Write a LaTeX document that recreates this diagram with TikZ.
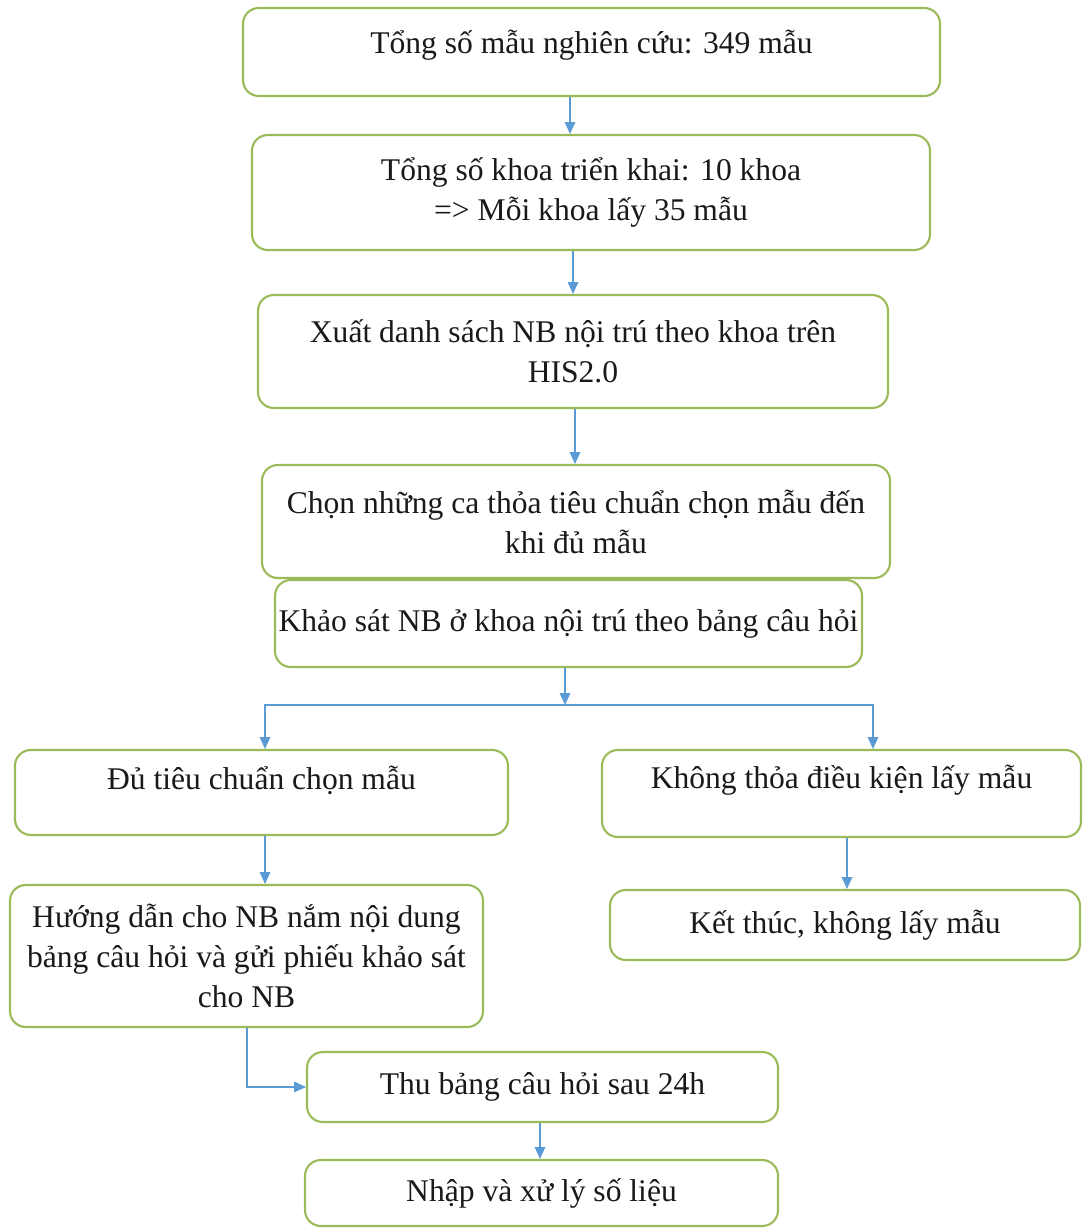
\documentclass[tikz,border=0pt]{standalone}
\usepackage{fontspec}
\setmainfont{Liberation Serif}
\usepackage{xcolor}
\usetikzlibrary{
  arrows.meta,
  calc
}
\definecolor{boxgreen}{RGB}{155,187,89}
\definecolor{arrowblue}{RGB}{91,155,213}

\begin{document}
\begin{tikzpicture}[
  x=0.38pt, y=-0.38pt,
  every node/.style={font=\fontsize{12}{15.2}\selectfont},
  box/.style={
    rectangle, rounded corners=6pt,
    draw=boxgreen, line width=0.8pt, fill=white,
    inner sep=0pt, align=center, text=black!90
  },
  boxsize/.style 2 args={minimum width=#1*0.38pt, minimum height=#2*0.38pt},
  hightext/.style={text depth=#1},
  arr/.style={-{Triangle[length=4.5pt,width=4pt]}, color=arrowblue, line width=0.5pt}
]
  \useasboundingbox (0,0) rectangle (1083,1228);

  % Main column
  \node[box, boxsize={697}{88}, hightext=8pt] (total) at (591.5,52) {Tổng số mẫu nghiên cứu: 349 mẫu};
  \node[box, boxsize={678}{115}] (depts) at (591,192.5) {Tổng số khoa triển khai: 10 khoa\\=> Mỗi khoa lấy 35 mẫu};
  \node[box, boxsize={630}{113}] (export) at (573,351.5) {Xuất danh sách NB nội trú theo khoa trên\\HIS2.0};
  \node[box, boxsize={628}{113}] (select) at (576,521.5) {Chọn những ca thỏa tiêu chuẩn chọn mẫu đến\\khi đủ mẫu};
  \node[box, boxsize={587}{87}] (survey) at (568.5,623.5) {Khảo sát NB ở khoa nội trú theo bảng câu hỏi};

  % Branches
  \node[box, boxsize={493}{85}, hightext=11pt] (enough) at (261.5,792.5) {Đủ tiêu chuẩn chọn mẫu};
  \node[box, boxsize={479}{87}, hightext=13pt] (notmet) at (841.5,793.5) {Không thỏa điều kiện lấy mẫu};
  \node[box, boxsize={473}{142}] (guide) at (246.5,956) {Hướng dẫn cho NB nắm nội dung\\bảng câu hỏi và gửi phiếu khảo sát\\cho NB};
  \node[box, boxsize={470}{70}] (stop) at (845,925) {Kết thúc, không lấy mẫu};

  % Bottom
  \node[box, boxsize={471}{70}] (collect) at (542.5,1087) {Thu bảng câu hỏi sau 24h};
  \node[box, boxsize={473}{66}] (enter) at (541.5,1193) {Nhập và xử lý số liệu};

  % Arrows
  \foreach \from/\to/\ax in {total/depts/570, depts/export/573, export/select/575,
                             enough/guide/265, notmet/stop/847, collect/enter/540} {
    \draw[arr] (\from.south -| \ax,0) -- (\to.north -| \ax,0);
  }
  \coordinate (split) at (565,705);
  \draw[arr] (survey.south -| split) -- (split);
  \draw[arr] (split) -| (enough.north -| 265,0);
  \draw[arr] (split) -| (notmet.north -| 873,0);
  \draw[arr] (guide.south -| 247,0) |- (collect.west);
\end{tikzpicture}
\end{document}
